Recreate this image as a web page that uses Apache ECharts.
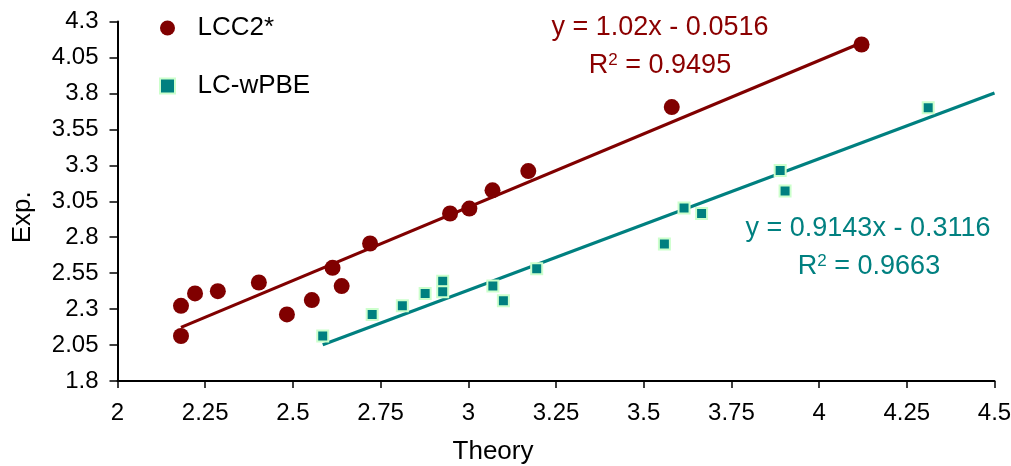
<!DOCTYPE html>
<html>
<head>
<meta charset="utf-8">
<script src="https://cdn.jsdelivr.net/npm/echarts@6/dist/echarts.min.js"></script>
<style>
html,body{margin:0;padding:0;background:#fff;}
#chart{width:1011px;height:466px;}
</style>
</head>
<body>
<div id="chart"></div>
<script>
// ---- data ----
var lcc2Theory = [2.181, 2.181, 2.221, 2.286, 2.403, 2.483, 2.554, 2.613, 2.639, 2.720, 2.948, 3.003, 3.069, 3.171, 3.580, 4.121];
var lcc2Exp    = [2.323, 2.113, 2.409, 2.425, 2.485, 2.263, 2.363, 2.587, 2.460, 2.756, 2.965, 2.999, 3.126, 3.260, 3.705, 4.140];
var wpbeTheory = [2.585, 2.726, 2.812, 2.877, 2.927, 2.927, 3.070, 3.100, 3.195, 3.559, 3.615, 3.665, 3.889, 3.903, 4.311];
var wpbeExp    = [2.113, 2.262, 2.323, 2.409, 2.494, 2.420, 2.460, 2.358, 2.580, 2.753, 3.003, 2.965, 3.263, 3.122, 3.701];
// trend lines: [slope, intercept], x range
var lcc2Fit = [1.02, -0.0516];
var lcc2FitRange = [2.181, 4.121];
var wpbeFit = [0.9143, -0.3116];
var wpbeFitRange = [2.585, 4.5];
var seriesNames = ['LCC2*', 'LC-wPBE'];
var xTicks = {min: 2, max: 4.5, interval: 0.25};
var yTicks = {min: 1.8, max: 4.3, interval: 0.25};

function pairs(xs, ys){ return xs.map(function(x,i){ return [x, ys[i]]; }); }
function fitLine(f, r){ return r.map(function(x){ return [x, +(f[0]*x + f[1]).toFixed(4)]; }); }

var FONT = "'Liberation Sans', Arial, sans-serif";
var RED = '#800000';
var TEAL = '#008080';

var chart = echarts.init(document.getElementById('chart'), null, {renderer: 'canvas'});
chart.setOption({
  animation: false,
  backgroundColor: '#ffffff',
  grid: {left: 117.5, right: 16.5, top: 21.5, bottom: 85, containLabel: false, outerBoundsMode: 'none'},
  legend: {
    orient: 'vertical',
    left: 154, top: 10,
    itemWidth: 50, itemHeight: 15,
    itemGap: 32,
    textStyle: {fontFamily: FONT, fontSize: 26, color: '#000'},
    data: [
      {name: seriesNames[0], icon: 'circle'},
      {name: seriesNames[1], icon: 'path://M0,0H10V10H0Z'}
    ]
  },
  xAxis: {
    type: 'value',
    min: xTicks.min, max: xTicks.max, interval: xTicks.interval,
    name: 'Theory', nameLocation: 'middle', nameGap: 58,
    nameTextStyle: {fontFamily: FONT, fontSize: 26, color: '#000', padding: [0, 126, 0, 0]},
    axisLine: {show: true, onZero: false, lineStyle: {color: '#000', width: 2}},
    axisTick: {show: true, inside: false, length: 7, lineStyle: {color: '#000', width: 1.5}},
    axisLabel: {fontFamily: FONT, fontSize: 24, color: '#000', margin: 20},
    splitLine: {show: false}
  },
  yAxis: {
    type: 'value',
    min: yTicks.min, max: yTicks.max, interval: yTicks.interval,
    name: 'Exp.', nameLocation: 'middle', nameGap: 82, nameRotate: 90,
    nameTextStyle: {fontFamily: FONT, fontSize: 26, color: '#000', padding: [0, 32, 0, 0]},
    axisLine: {show: true, onZero: false, lineStyle: {color: '#000', width: 2}},
    axisTick: {show: true, inside: false, length: 8, lineStyle: {color: '#000', width: 1.5}},
    axisLabel: {fontFamily: FONT, fontSize: 24, color: '#000', margin: 19},
    splitLine: {show: false}
  },
  series: [
    {
      name: seriesNames[0] + ' fit', type: 'line', data: fitLine(lcc2Fit, lcc2FitRange),
      showSymbol: false, silent: true, z: 2,
      lineStyle: {color: RED, width: 3.2}, itemStyle: {color: RED}
    },
    {
      name: seriesNames[1] + ' fit', type: 'line', data: fitLine(wpbeFit, wpbeFitRange),
      showSymbol: false, silent: true, z: 2,
      lineStyle: {color: TEAL, width: 3.2}, itemStyle: {color: TEAL}
    },
    {
      name: seriesNames[0], type: 'scatter', data: pairs(lcc2Theory, lcc2Exp),
      symbol: 'circle', symbolSize: 16, z: 3,
      itemStyle: {color: RED, opacity: 1}
    },
    {
      name: seriesNames[1], type: 'scatter', data: pairs(wpbeTheory, wpbeExp),
      symbol: 'rect', symbolSize: 11, z: 3,
      itemStyle: {color: TEAL, borderColor: '#ccffcc', borderWidth: 2, opacity: 1}
    }
  ],
  graphic: [
    {type: 'text', x: 660, y: 28, z: 10, style: {text: 'y = 1.02x - 0.0516', align: 'center', verticalAlign: 'middle', fontFamily: FONT, fontSize: 27, fill: '#8b0000'}},
    {type: 'text', x: 660, y: 66, z: 10, style: {text: 'R{sup|2} = 0.9495', align: 'center', verticalAlign: 'middle', fontFamily: FONT, fontSize: 27, fill: '#8b0000',
      rich: {sup: {fontFamily: FONT, fontSize: 17, fill: '#8b0000', verticalAlign: 'top', padding: [0,0,11,0]}}}},
    {type: 'text', x: 868, y: 229, z: 10, style: {text: 'y = 0.9143x - 0.3116', align: 'center', verticalAlign: 'middle', fontFamily: FONT, fontSize: 27, fill: TEAL}},
    {type: 'text', x: 869, y: 267, z: 10, style: {text: 'R{sup|2} = 0.9663', align: 'center', verticalAlign: 'middle', fontFamily: FONT, fontSize: 27, fill: TEAL,
      rich: {sup: {fontFamily: FONT, fontSize: 17, fill: TEAL, verticalAlign: 'top', padding: [0,0,11,0]}}}}
  ]
});
</script>
</body>
</html>
